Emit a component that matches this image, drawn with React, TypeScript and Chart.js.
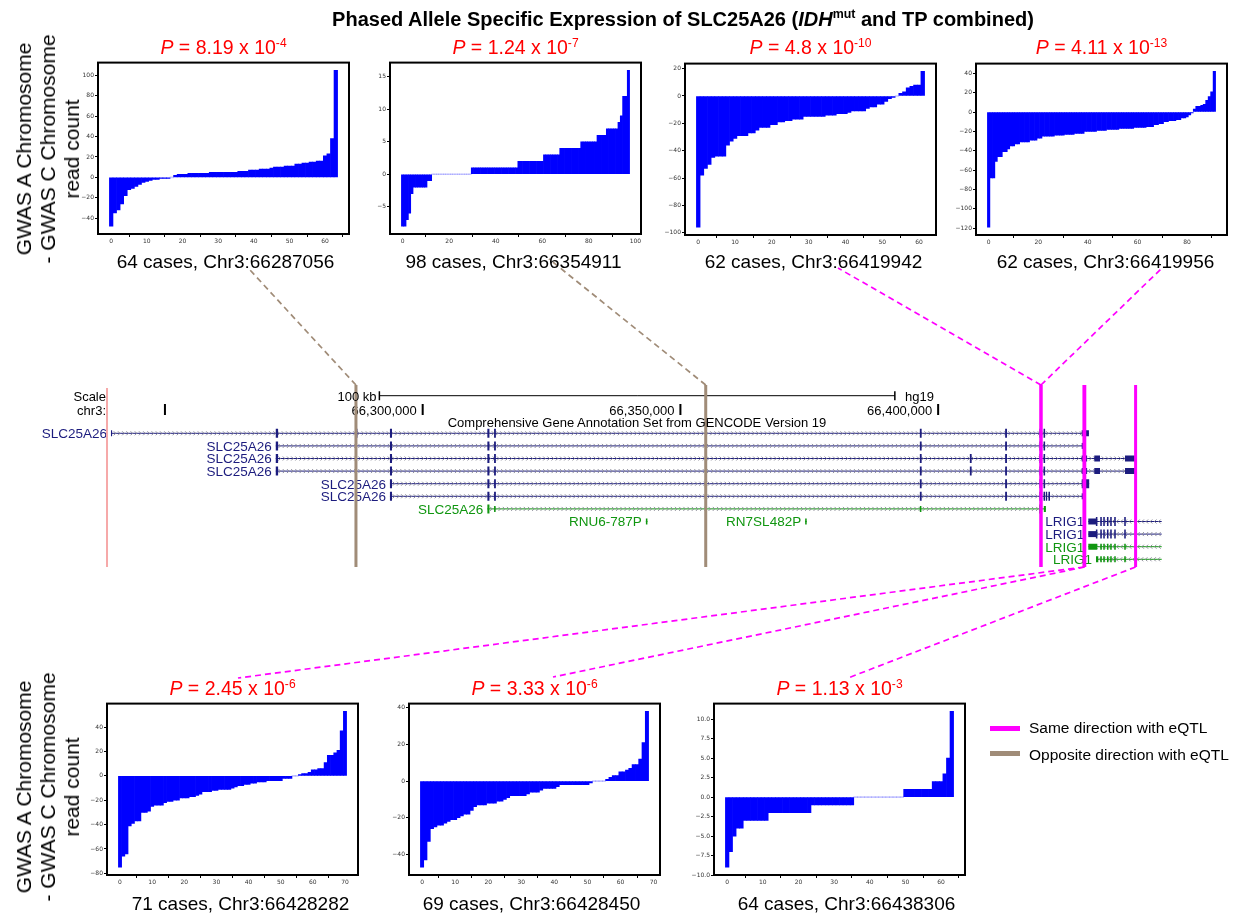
import React, { useEffect, useRef } from "react";
import { Chart, registerables } from "chart.js";

Chart.register(...registerables);

/* ======================= DATA ======================= */
// SNPs shown in the seven ASE panels
const SNP_POSITIONS = [66287056, 66354911, 66419942, 66419956, 66428282, 66428450, 66438306];
const SNP_CASES = [64, 98, 62, 62, 71, 69, 64];
const SNP_EQTL_DIRECTION = ["opposite", "opposite", "same", "same", "same", "same", "same"];
const P_MANTISSA = ["8.19", "1.24", "4.8", "4.11", "2.45", "3.33", "1.13"];
const P_EXPONENT = ["-4", "-7", "-10", "-13", "-6", "-6", "-3"];
const X_TICK_STEP = [10, 20, 10, 20, 10, 10, 10];
const Y_TICK_STEP = [20, 5, 20, 20, 20, 20, 2.5];
const Y_TICK_DECIMALS = [0, 0, 0, 0, 0, 0, 1];

// sorted per-case read-count differences (GWAS A - GWAS C)
const ASE_66287056 = [
  -48, -35, -32, -26, -18, -12, -11, -9, -7, -5, -4, -3, -2, -2, -1, -1, -1, 0, 2, 3,
  3, 3, 4, 4, 4, 4, 4, 4, 5, 5, 5, 5, 5, 5, 5, 5, 6, 6, 6, 7,
  7, 7, 8, 8, 8, 9, 10, 10, 10, 11, 11, 11, 13, 13, 14, 14, 15, 15, 16, 16,
  21, 23, 38, 105,
];
const ASE_66354911 = [
  -8, -8, -7, -6, -3, -2, -2, -2, -2, -2, -2, -1, -1, 0, 0, 0, 0, 0, 0, 0,
  0, 0, 0, 0, 0, 0, 0, 0, 0, 0, 1, 1, 1, 1, 1, 1, 1, 1, 1, 1,
  1, 1, 1, 1, 1, 1, 1, 1, 1, 1, 2, 2, 2, 2, 2, 2, 2, 2, 2, 2,
  2, 3, 3, 3, 3, 3, 3, 3, 4, 4, 4, 4, 4, 4, 4, 4, 4, 5, 5, 5,
  5, 5, 5, 5, 6, 6, 6, 6, 7, 7, 7, 7, 7, 8, 9, 12, 12, 16,
];
const ASE_66419942 = [
  -96, -58, -53, -50, -45, -44, -44, -44, -36, -33,
  -31, -29, -29, -29, -27, -27, -25, -23, -23, -23,
  -21, -21, -19, -19, -18, -18, -17, -17, -17, -15,
  -15, -15, -15, -15, -15, -14, -14, -14, -13, -13,
  -13, -12, -11, -11, -11, -11, -9, -8, -8, -6,
  -6, -4, -2, -1, 0, 2, 3, 6, 7, 8,
  8, 18,
];
const ASE_66419956 = [
  -119, -68, -68, -51, -46, -46, -41, -41, -38, -35,
  -35, -33, -33, -31, -31, -31, -31, -29, -29, -29,
  -27, -27, -25, -25, -25, -25, -25, -24, -24, -24,
  -24, -23, -23, -23, -23, -22, -22, -22, -22, -20,
  -20, -20, -20, -20, -19, -19, -19, -19, -18, -18,
  -18, -18, -18, -17, -17, -17, -17, -17, -17, -16,
  -16, -16, -16, -16, -15, -15, -15, -13, -13, -12,
  -12, -10, -10, -9, -9, -9, -8, -8, -6, -6,
  -5, -3, -1, 3, 6, 6, 7, 8, 12, 16,
  21, 42,
];
const ASE_66428282 = [
  -75, -66, -64, -41, -39, -37, -37, -30, -30, -29,
  -25, -24, -24, -24, -22, -21, -21, -20, -20, -18,
  -18, -18, -17, -17, -16, -15, -13, -13, -13, -12,
  -12, -11, -11, -11, -11, -10, -9, -8, -8, -7,
  -7, -6, -6, -5, -5, -5, -4, -4, -4, -4,
  -4, -2, -2, -2, 0, 0, 1, 2, 2, 3,
  5, 5, 6, 6, 11, 17, 17, 19, 21, 37,
  53,
];
const ASE_66428450 = [
  -47, -43, -33, -26, -25, -24, -24, -23, -22, -21,
  -21, -20, -19, -18, -18, -16, -14, -13, -13, -13,
  -12, -12, -12, -11, -11, -10, -9, -8, -8, -8,
  -8, -8, -7, -6, -6, -6, -5, -4, -4, -4,
  -4, -3, -2, -2, -2, -2, -2, -2, -2, -2,
  -2, -1, 0, 0, 0, 0, 1, 2, 3, 3,
  5, 5, 6, 7, 9, 9, 12, 21, 38,
];
const ASE_66438306 = [
  -9, -7, -5, -4, -4, -3, -3, -3, -3, -3,
  -3, -3, -2, -2, -2, -2, -2, -2, -2, -2,
  -2, -2, -2, -2, -1, -1, -1, -1, -1, -1,
  -1, -1, -1, -1, -1, -1, 0, 0, 0, 0,
  0, 0, 0, 0, 0, 0, 0, 0, 0, 0,
  1, 1, 1, 1, 1, 1, 1, 1, 2, 2,
  2, 3, 5, 11,
];
const ASE_SERIES = [ASE_66287056, ASE_66354911, ASE_66419942, ASE_66419956, ASE_66428282, ASE_66428450, ASE_66438306];

// Genome browser window (hg19, chr3)
const VIEW_START = 66218000;
const VIEW_END = 66459530;
const VIEW_EDGE = 66238760;
const POS_TICKS = [66250000, 66300000, 66350000, 66400000];
const POS_TICK_LABELS = ["", "66,300,000", "66,350,000", "66,400,000"];
const SCALE_BAR = [66291600, 66391600];

// GENCODE v19 transcripts
const TX_NAMES = ["SLC25A26", "SLC25A26", "SLC25A26", "SLC25A26", "SLC25A26", "SLC25A26", "SLC25A26", "RNU6-787P", "RN7SL482P", "LRIG1", "LRIG1", "LRIG1", "LRIG1"];
const TX_ROWS = [0, 1, 2, 3, 4, 5, 6, 7, 7, 7, 8, 9, 10];
const TX_STRAND = ["+", "+", "+", "+", "+", "+", "+", "+", "+", "-", "-", "-", "-"];
const TX_CLASS = ["coding", "coding", "coding", "coding", "coding", "coding", "noncoding", "noncoding", "noncoding", "coding", "coding", "noncoding", "noncoding"];
const TX_START = [66239530, 66271500, 66271500, 66271500, 66293650, 66293650, 66312550, 66343300, 66374200, 66429130, 66429130, 66429130, 66430624];
const TX_END = [66429250, 66428160, 66438384, 66438384, 66429300, 66428250, 66420900, 66343600, 66374500, 66443370, 66443370, 66443370, 66443370];
const TX_EXONS: [number, number, string][][] = [
  [[66239530, 66239750, "utr"], [66271500, 66271950, "cds"], [66287100, 66287350, "cds"], [66293650, 66294050, "cds"], [66312550, 66312950, "cds"], [66313850, 66314200, "cds"], [66396450, 66396800, "cds"], [66413000, 66413350, "cds"], [66419650, 66420000, "cds"], [66420450, 66420750, "cds"], [66427850, 66429250, "utr"]],
  [[66271500, 66271950, "cds"], [66293650, 66294050, "cds"], [66312550, 66312950, "cds"], [66313850, 66314200, "cds"], [66396450, 66396800, "cds"], [66413000, 66413350, "cds"], [66419650, 66420000, "cds"], [66420450, 66420750, "cds"], [66427850, 66428160, "utr"]],
  [[66271500, 66271950, "cds"], [66293650, 66294050, "cds"], [66312550, 66312950, "cds"], [66313850, 66314200, "cds"], [66396450, 66396800, "cds"], [66406150, 66406500, "cds"], [66413000, 66413350, "cds"], [66419650, 66420000, "cds"], [66420450, 66420750, "cds"], [66427850, 66428900, "utr"], [66430294, 66431400, "utr"], [66436250, 66438384, "utr"]],
  [[66271500, 66271950, "cds"], [66293650, 66294050, "cds"], [66312550, 66312950, "cds"], [66313850, 66314200, "cds"], [66396450, 66396800, "cds"], [66406150, 66406500, "cds"], [66413000, 66413350, "cds"], [66419650, 66420000, "cds"], [66420450, 66420750, "cds"], [66427850, 66428900, "utr"], [66430294, 66431400, "utr"], [66436250, 66438384, "utr"]],
  [[66293650, 66294050, "cds"], [66312550, 66312950, "cds"], [66313850, 66314200, "cds"], [66354750, 66355100, "cds"], [66396450, 66396800, "cds"], [66413000, 66413350, "cds"], [66419650, 66420000, "cds"], [66420450, 66420750, "cds"], [66427850, 66429300, "cds"]],
  [[66293650, 66294050, "cds"], [66312550, 66312950, "cds"], [66313850, 66314200, "cds"], [66396450, 66396800, "cds"], [66413000, 66413350, "cds"], [66419650, 66420000, "cds"], [66420450, 66420750, "cds"], [66420900, 66421150, "cds"], [66421400, 66421700, "cds"], [66427850, 66428250, "utr"]],
  [[66312550, 66312950, "cds"], [66313850, 66314150, "utr"], [66396450, 66396750, "utr"], [66419600, 66420050, "cds"], [66420500, 66420900, "utr"]],
  [[66343300, 66343600, "utr"]],
  [[66374200, 66374500, "utr"]],
  [[66429130, 66430624, "utr"], [66430600, 66430900, "cds"], [66431450, 66431750, "cds"], [66432030, 66432330, "cds"], [66432750, 66433050, "cds"], [66433380, 66433680, "cds"], [66434160, 66434460, "cds"], [66436100, 66436400, "cds"]],
  [[66429130, 66430624, "utr"], [66430600, 66430900, "cds"], [66431450, 66431750, "cds"], [66432030, 66432330, "cds"], [66432750, 66433050, "cds"], [66433380, 66433680, "cds"], [66434160, 66434460, "cds"], [66436100, 66436400, "cds"]],
  [[66429130, 66430876, "utr"], [66431450, 66431750, "utr"], [66432030, 66432330, "utr"], [66432750, 66433050, "utr"], [66433380, 66433680, "utr"], [66434160, 66434460, "utr"], [66436100, 66436400, "utr"]],
  [[66430624, 66431070, "utr"], [66431450, 66431750, "utr"], [66432030, 66432330, "utr"], [66432750, 66433050, "utr"], [66433380, 66433680, "utr"], [66434160, 66434460, "utr"], [66436100, 66436400, "utr"]],
];

/* ======================= LAYOUT / STYLE ======================= */
const PAGE_W = 1245;
const PAGE_H = 915;
const FONT = '"Liberation Sans", Arial, Helvetica, sans-serif';
const PANEL_ORIGIN = [[98, 62], [390, 62], [685, 63], [976, 63], [107, 703], [409, 703], [714, 703]];
const CAPTION_DX = [2, -2, 3, 4, 8, -3, 7];
const BOX_W = 251;
const BOX_H = 172;
const AXIS_Y_W = 26;
const AXIS_X_H = 14;
const PAD_T = 4;
const PAD_R = 4;
const CONNECTOR_ENDS = [[250, 270], [549, 259], [838, 268], [1162, 268], [238, 678], [553, 677], [848, 678]];
const DIR_COLOR: Record<string, string> = { same: "#ff00ff", opposite: "#a08c78" };
const CLASS_COLOR: Record<string, string> = { coding: "#1c1c7e", noncoding: "#109610" };
const EXON_HEIGHT: Record<string, number> = { cds: 9, utr: 6 };
const TRACK_ROW0_PX = 433.3;
const ROW_PITCH = 12.6;
const HL_TOP_PX = 385;
const HL_BOTTOM_PX = 567;

const pxToRow = (px: number) => (px - TRACK_ROW0_PX) / ROW_PITCH;
const fmtTick = (v: number, d: number) => (v < 0 ? "\u2212" : "") + Math.abs(v).toFixed(d);

/* ======================= COMPONENTS ======================= */
function Txt(props: { x: number; base: number; size: number; anchor?: string; color?: string; weight?: any; children: React.ReactNode }) {
  const { x, base, size, anchor = "middle", color = "#000", weight = "normal", children } = props;
  const tx = anchor === "middle" ? "-50%" : anchor === "end" ? "-100%" : "0";
  return (
    <div
      style={{
        position: "absolute",
        left: x,
        top: base - 0.8465 * size,
        fontFamily: FONT,
        fontSize: size,
        lineHeight: `${size}px`,
        color,
        fontWeight: weight,
        whiteSpace: "nowrap",
        transform: `translateX(${tx})`,
      }}
    >
      {children}
    </div>
  );
}

const Sup = ({ children }: { children: React.ReactNode }) => (
  <span style={{ fontSize: "0.62em", verticalAlign: "0.62em", lineHeight: 0 }}>{children}</span>
);

const framePlugin = {
  id: "frame",
  afterDraw(chart: any) {
    const { ctx, chartArea: a } = chart;
    ctx.save();
    ctx.strokeStyle = "#000";
    ctx.lineWidth = 2;
    ctx.strokeRect(a.left, a.top, a.right - a.left, a.bottom - a.top);
    ctx.restore();
  },
};

function AsePanel({ idx }: { idx: number }) {
  const ref = useRef<HTMLCanvasElement>(null);
  const [bx, by] = PANEL_ORIGIN[idx];
  const W = BOX_W + AXIS_Y_W + PAD_R;
  const H = BOX_H + PAD_T + AXIS_X_H;
  useEffect(() => {
    const values = ASE_SERIES[idx];
    const n = values.length;
    const lo = Math.min(0, ...values);
    const hi = Math.max(0, ...values);
    const m = 0.05 * (hi - lo);
    const tickFont = { family: "DejaVu Sans", size: 6 };
    const chart = new Chart(ref.current as HTMLCanvasElement, {
      type: "bar",
      data: {
        datasets: [
          {
            data: values.map((v, i) => ({ x: i, y: v })),
            backgroundColor: values.map((v) => (v === 0 ? "rgba(0,0,255,0.22)" : "#0000ff")),
            borderWidth: 0,
            barPercentage: 1,
            categoryPercentage: 1,
            minBarLength: 1,
          } as any,
        ],
      },
      options: {
        animation: false,
        responsive: false,
        devicePixelRatio: 1,
        events: [],
        layout: { padding: { top: PAD_T, right: PAD_R, left: 0, bottom: 0 } },
        plugins: { legend: { display: false }, tooltip: { enabled: false } },
        scales: {
          x: {
            type: "linear",
            min: -0.5 - 0.05 * n,
            max: n - 0.5 + 0.05 * n,
            offset: false,
            ticks: {
              stepSize: X_TICK_STEP[idx],
              includeBounds: false,
              font: tickFont,
              color: "#333",
              padding: 1,
              maxRotation: 0,
              autoSkip: false,
              callback: (v: any) => fmtTick(Number(v), 0),
            },
            grid: { display: true, drawOnChartArea: false, drawTicks: true, tickLength: 3, color: "#000", lineWidth: 1 },
            border: { display: false },
            afterFit: (s: any) => {
              s.height = AXIS_X_H;
            },
          } as any,
          y: {
            type: "linear",
            min: lo - m,
            max: hi + m,
            ticks: {
              stepSize: Y_TICK_STEP[idx],
              includeBounds: false,
              font: tickFont,
              color: "#333",
              padding: 1,
              autoSkip: false,
              callback: (v: any) => fmtTick(Number(v), Y_TICK_DECIMALS[idx]),
            },
            grid: { display: true, drawOnChartArea: false, drawTicks: true, tickLength: 3, color: "#000", lineWidth: 1 },
            border: { display: false },
            afterFit: (s: any) => {
              s.width = AXIS_Y_W;
            },
          } as any,
        },
      },
      plugins: [framePlugin],
    });
    return () => chart.destroy();
  }, [idx]);
  return (
    <canvas
      ref={ref}
      width={W}
      height={H}
      style={{ position: "absolute", left: bx - AXIS_Y_W, top: by - PAD_T, width: W, height: H }}
    />
  );
}

function TrackChart() {
  const ref = useRef<HTMLCanvasElement>(null);
  useEffect(() => {
    const datasets: any[] = [];
    const seg = (x0: number, y0: number, x1: number, y1: number, color: string, width: number, order: number, extra: any = {}) =>
      datasets.push({
        data: [{ x: x0, y: y0 }, { x: x1, y: y1 }],
        borderColor: color,
        borderWidth: width,
        pointRadius: 0,
        borderCapStyle: "butt",
        order,
        ...extra,
      });

    // SNP highlight lines (topmost)
    const hlTop = pxToRow(HL_TOP_PX);
    const hlBottom = pxToRow(HL_BOTTOM_PX);
    SNP_POSITIONS.forEach((p, i) => seg(p, hlTop, p, hlBottom, DIR_COLOR[SNP_EQTL_DIRECTION[i]], 3, 0));

    // exons
    TX_EXONS.forEach((exons, i) => {
      ["utr", "cds"].forEach((kind) => {
        const pts: any[] = [];
        exons
          .filter((e) => e[2] === kind)
          .forEach(([s, e]) => {
            pts.push({ x: s, y: TX_ROWS[i] }, { x: e, y: TX_ROWS[i] }, { x: e, y: null });
          });
        if (pts.length)
          datasets.push({
            data: pts,
            borderColor: CLASS_COLOR[TX_CLASS[i]],
            borderWidth: EXON_HEIGHT[kind],
            pointRadius: 0,
            borderCapStyle: "butt",
            spanGaps: false,
            order: 1,
          });
      });
    });

    // introns (with strand chevrons)
    TX_NAMES.forEach((_, i) =>
      seg(TX_START[i], TX_ROWS[i], TX_END[i], TX_ROWS[i], CLASS_COLOR[TX_CLASS[i]], 1, 2, { strand: TX_STRAND[i] })
    );

    // window edge, scale bar, coordinate ticks
    seg(VIEW_EDGE, pxToRow(388), VIEW_EDGE, pxToRow(567), "#f6a9a9", 2, 3);
    const sbRow = pxToRow(395.7);
    seg(SCALE_BAR[0], sbRow, SCALE_BAR[1], sbRow, "#000", 1, 3);
    seg(SCALE_BAR[0], sbRow - 0.36, SCALE_BAR[0], sbRow + 0.36, "#000", 1.5, 3);
    seg(SCALE_BAR[1], sbRow - 0.36, SCALE_BAR[1], sbRow + 0.36, "#000", 1.5, 3);
    POS_TICKS.forEach((p) => seg(p, pxToRow(404), p, pxToRow(415), "#000", 2, 3));

    const decor = {
      id: "trackDecor",
      beforeDatasetsDraw(chart: any) {
        const { ctx } = chart;
        const x = chart.scales.x;
        const y = chart.scales.y;
        ctx.save();
        ctx.font = `13.5px ${FONT}`;
        ctx.textAlign = "right";
        ctx.textBaseline = "alphabetic";
        TX_NAMES.forEach((name, i) => {
          ctx.fillStyle = CLASS_COLOR[TX_CLASS[i]];
          ctx.fillText(name, x.getPixelForValue(TX_START[i]) - 4, y.getPixelForValue(TX_ROWS[i]) + 4.8);
        });
        ctx.font = `13px ${FONT}`;
        ctx.fillStyle = "#000";
        POS_TICKS.forEach((p, i) => {
          if (POS_TICK_LABELS[i]) ctx.fillText(POS_TICK_LABELS[i], x.getPixelForValue(p) - 6, 415);
        });
        ctx.restore();
      },
      afterDatasetDraw(chart: any, args: any) {
        const ds = chart.data.datasets[args.index];
        if (!ds.strand) return;
        const pts = args.meta.data;
        const x0 = pts[0].x;
        const x1 = pts[1].x;
        const cy = pts[0].y;
        const { ctx } = chart;
        ctx.save();
        ctx.strokeStyle = "#8e8e9a";
        ctx.lineWidth = 1;
        ctx.beginPath();
        const dir = ds.strand === "+" ? 1 : -1;
        for (let cx = x0 + 4; cx < x1 - 2; cx += 4.2) {
          ctx.moveTo(cx - 1.2 * dir, cy - 2);
          ctx.lineTo(cx + 0.8 * dir, cy);
          ctx.lineTo(cx - 1.2 * dir, cy + 2);
        }
        ctx.stroke();
        ctx.restore();
      },
      afterDatasetsDraw(chart: any) {
        const { ctx } = chart;
        const x = chart.scales.x;
        const y = chart.scales.y;
        ctx.save();
        ctx.setLineDash([6, 4]);
        ctx.lineWidth = 1.7;
        SNP_POSITIONS.forEach((p, i) => {
          const px = x.getPixelForValue(p);
          const py = i < 4 ? y.getPixelForValue(hlTop) : y.getPixelForValue(hlBottom);
          ctx.strokeStyle = DIR_COLOR[SNP_EQTL_DIRECTION[i]];
          ctx.beginPath();
          ctx.moveTo(px, py);
          ctx.lineTo(CONNECTOR_ENDS[i][0], CONNECTOR_ENDS[i][1]);
          ctx.stroke();
        });
        ctx.restore();
      },
    };

    const chart = new Chart(ref.current as HTMLCanvasElement, {
      type: "line",
      data: { datasets },
      options: {
        animation: false,
        responsive: false,
        devicePixelRatio: 1,
        events: [],
        layout: { padding: 0 },
        plugins: { legend: { display: false }, tooltip: { enabled: false } },
        scales: {
          x: { type: "linear", display: false, min: VIEW_START, max: VIEW_END },
          y: {
            type: "linear",
            display: false,
            reverse: true,
            min: -TRACK_ROW0_PX / ROW_PITCH,
            max: (PAGE_H - TRACK_ROW0_PX) / ROW_PITCH,
          },
        },
      } as any,
      plugins: [decor as any],
    });
    return () => chart.destroy();
  }, []);
  return (
    <canvas
      ref={ref}
      width={PAGE_W}
      height={PAGE_H}
      style={{ position: "absolute", left: 0, top: 0, width: PAGE_W, height: PAGE_H }}
    />
  );
}

function YLabel({ cx, cy }: { cx: number; cy: number }) {
  return (
    <div
      style={{
        position: "absolute",
        left: cx,
        top: cy,
        transform: "translate(-50%, -50%) rotate(-90deg)",
        fontFamily: FONT,
        fontSize: 21,
        lineHeight: "24px",
        textAlign: "center",
        whiteSpace: "pre",
        color: "#000",
      }}
    >
      {"GWAS A Chromosome\n- GWAS C Chromosome\nread count"}
    </div>
  );
}

export default function App() {
  return (
    <div style={{ position: "absolute", left: 0, top: 0, width: PAGE_W, height: PAGE_H, background: "#fff", overflow: "hidden" }}>
      <TrackChart />
      {ASE_SERIES.map((_, i) => (
        <AsePanel key={i} idx={i} />
      ))}

      <Txt x={683} base={26} size={20} weight="bold">
        Phased Allele Specific Expression of SLC25A26 (<i>IDH</i>
        <Sup>mut</Sup> and TP combined)
      </Txt>

      {ASE_SERIES.map((_, i) => {
        const [bx] = PANEL_ORIGIN[i];
        const top = i < 4;
        return (
          <React.Fragment key={i}>
            <Txt x={bx + BOX_W / 2} base={top ? 55 : 696} size={19.5} color="#ff0000">
              <i>P</i> = {P_MANTISSA[i]} x 10<Sup>{P_EXPONENT[i]}</Sup>
            </Txt>
            <Txt x={bx + BOX_W / 2 + CAPTION_DX[i]} base={top ? 268.3 : 910} size={19}>
              {`${SNP_CASES[i]} cases, Chr3:${SNP_POSITIONS[i]}`}
            </Txt>
          </React.Fragment>
        );
      })}

      <YLabel cx={48.4} cy={149} />
      <YLabel cx={48.4} cy={787} />

      <Txt x={106} base={401.3} size={13} anchor="end">Scale</Txt>
      <Txt x={106} base={415} size={13} anchor="end">chr3:</Txt>
      <Txt x={376.5} base={401.3} size={13} anchor="end">100 kb</Txt>
      <Txt x={905} base={401.3} size={13} anchor="start">hg19</Txt>
      <Txt x={637} base={427.5} size={13}>Comprehensive Gene Annotation Set from GENCODE Version 19</Txt>

      <div style={{ position: "absolute", left: 990, top: 725.8, width: 30, height: 5, background: DIR_COLOR.same }} />
      <Txt x={1029} base={733.5} size={15.5} anchor="start">Same direction with eQTL</Txt>
      <div style={{ position: "absolute", left: 990, top: 750.8, width: 30, height: 5, background: DIR_COLOR.opposite }} />
      <Txt x={1029} base={760} size={15.5} anchor="start">Opposite direction with eQTL</Txt>
    </div>
  );
}
